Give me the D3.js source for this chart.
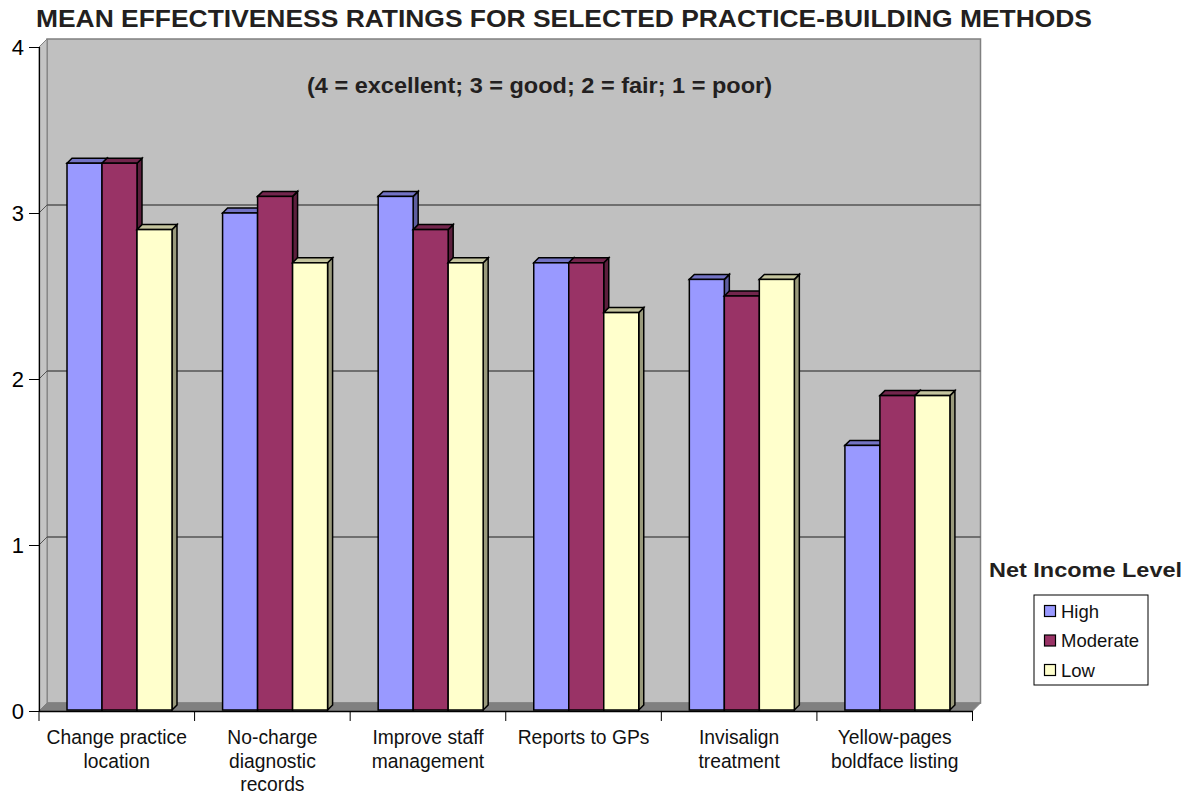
<!DOCTYPE html>
<html>
<head>
<meta charset="utf-8">
<script src="https://cdn.jsdelivr.net/npm/d3@7/dist/d3.min.js"></script>
<style>
  html, body { margin: 0; padding: 0; background: #fff; }
  svg { display: block; font-family: "Liberation Sans", Arial, sans-serif; }
</style>
</head>
<body>
<svg id="chart" width="1194" height="795"></svg>
<script>
// ---- Data ----
const categories = [
  ["Change practice", "location"],
  ["No-charge", "diagnostic", "records"],
  ["Improve staff", "management"],
  ["Reports to GPs"],
  ["Invisalign", "treatment"],
  ["Yellow-pages", "boldface listing"]
];
const seriesNames = ["High", "Moderate", "Low"];
const highValues     = [3.3, 3.0, 3.1, 2.7, 2.6, 1.6];
const moderateValues = [3.3, 3.1, 2.9, 2.7, 2.5, 1.9];
const lowValues      = [2.9, 2.7, 2.7, 2.4, 2.6, 1.9];
const yTicks = [0, 1, 2, 3, 4];
const titleText = "MEAN EFFECTIVENESS RATINGS FOR SELECTED PRACTICE-BUILDING METHODS";
const subtitleText = "(4 = excellent; 3 = good; 2 = fair; 1 = poor)";
const legendTitle = "Net Income Level";

const seriesValues = [highValues, moderateValues, lowValues];
const colors = {
  front: ["#9999FF", "#993366", "#FFFFCC"],
  top:   ["#7373C4", "#73264D", "#C4C49E"],
  side:  ["#5E5EA0", "#5C1F3D", "#9A9A7C"]
};

const svg = d3.select("#chart");
const catKeys = categories.map((c, i) => i);

const x0 = 39, x1 = 972.5, yBase = 711, yTop = 47;
const D = 8;       // wall depth
const bd = 5;      // bar depth

const x = d3.scaleBand().domain(catKeys).range([x0, x1]).paddingInner(0).paddingOuter(0);
const xInner = d3.scaleBand().domain(seriesNames).range([28, 133]);
const y = d3.scaleLinear().domain([0, 4]).range([yBase, yTop]);

// ---- Walls ----
svg.append("rect")
  .attr("x", x0 + D).attr("y", y(4) - D)
  .attr("width", x1 + D - (x0 + D)).attr("height", y(0) - y(4))
  .attr("fill", "#C0C0C0").attr("stroke", "#808080").attr("stroke-width", 1.5);
svg.append("polygon")
  .attr("points", [[x0, y(4)], [x0 + D, y(4) - D], [x0 + D, y(0) - D], [x0, y(0)]].map(p => p.join(",")).join(" "))
  .attr("fill", "#C4C4C4").attr("stroke", "#808080").attr("stroke-width", 1);
svg.append("polygon")
  .attr("points", [[x0, y(0)], [x0 + D, y(0) - D], [x1 + D, y(0) - D], [x1, y(0)]].map(p => p.join(",")).join(" "))
  .attr("fill", "#808080").attr("stroke", "#808080").attr("stroke-width", 1);

const grid = svg.append("g");
yTicks.filter(t => t > 0 && t < 4).forEach(t => {
  grid.append("line")
    .attr("x1", x0 + D).attr("x2", x1 + D)
    .attr("y1", y(t) - D).attr("y2", y(t) - D)
    .attr("stroke", "#555").attr("stroke-width", 1.5);
  grid.append("line")
    .attr("x1", x0).attr("x2", x0 + D)
    .attr("y1", y(t)).attr("y2", y(t) - D)
    .attr("stroke", "#555").attr("stroke-width", 1);
});

// ---- Bars ----
const bars = svg.append("g");
catKeys.forEach(ci => {
  seriesNames.forEach((s, si) => {
    const v = seriesValues[si][ci];
    const bx = x(ci) + xInner(s);
    const w = xInner.bandwidth();
    const yt = y(v), yb = y(0) - 1;
    const g = bars.append("g").attr("stroke", "#000").attr("stroke-width", 1.5).attr("stroke-linejoin", "miter");
    g.append("polygon")
      .attr("points", [[bx + w, yt], [bx + w + bd, yt - bd], [bx + w + bd, yb - bd], [bx + w, yb]].map(p => p.join(",")).join(" "))
      .attr("fill", colors.side[si]);
    g.append("polygon")
      .attr("points", [[bx, yt], [bx + bd, yt - bd], [bx + w + bd, yt - bd], [bx + w, yt]].map(p => p.join(",")).join(" "))
      .attr("fill", colors.top[si]);
    g.append("rect")
      .attr("x", bx).attr("y", yt).attr("width", w).attr("height", yb - yt)
      .attr("fill", colors.front[si]);
  });
});

// ---- Axes ----
const yAxis = d3.axisLeft(y).tickValues(yTicks).tickSize(10).tickPadding(5).tickFormat(d3.format("d"));
const yg = svg.append("g").attr("transform", `translate(${x0},0)`).call(yAxis);
yg.select(".domain").attr("stroke", "#000").attr("stroke-width", 1.2);
yg.selectAll(".tick line").attr("stroke", "#000");
yg.selectAll(".tick text").attr("font-size", 22).attr("fill", "#000")
  .attr("font-family", "Liberation Sans, Arial, sans-serif");

const xAxis = d3.axisBottom(x).tickSize(0).tickFormat("");
const xg = svg.append("g").attr("transform", `translate(0,${yBase})`).call(xAxis);
xg.select(".domain").attr("stroke", "#000").attr("stroke-width", 1.5);
xg.selectAll(".tick").remove();
const bounds = catKeys.map(c => x(c)).concat([x1]);
xg.selectAll("line.bt").data(bounds).enter().append("line")
  .attr("class", "bt").attr("x1", d => d).attr("x2", d => d)
  .attr("y1", 0).attr("y2", 10).attr("stroke", "#000").attr("stroke-width", 1);
catKeys.forEach(ci => {
  const t = svg.append("text")
    .attr("x", x(ci) + x.bandwidth() / 2).attr("y", 744)
    .attr("text-anchor", "middle").attr("font-size", 19.3).attr("fill", "#111");
  categories[ci].forEach((line, li) => {
    t.append("tspan").attr("x", x(ci) + x.bandwidth() / 2).attr("dy", li === 0 ? 0 : 23.5).text(line);
  });
});

// ---- Titles ----
svg.append("text").attr("x", 36).attr("y", 27)
  .attr("font-size", 23.5).attr("font-weight", "bold").attr("fill", "#231F20")
  .attr("textLength", 1056).attr("lengthAdjust", "spacingAndGlyphs").text(titleText);
svg.append("text").attr("x", 307).attr("y", 93)
  .attr("font-size", 21.5).attr("font-weight", "bold").attr("fill", "#231F20")
  .attr("textLength", 465).attr("lengthAdjust", "spacingAndGlyphs").text(subtitleText);

// ---- Legend ----
svg.append("text").attr("x", 989).attr("y", 577)
  .attr("font-size", 19.5).attr("font-weight", "bold").attr("fill", "#231F20")
  .attr("textLength", 193).attr("lengthAdjust", "spacingAndGlyphs").text(legendTitle);
const lg = svg.append("g");
lg.append("rect").attr("x", 1034).attr("y", 595).attr("width", 114).attr("height", 90)
  .attr("fill", "#fff").attr("stroke", "#000").attr("stroke-width", 1);
const ly = d3.scalePoint().domain(seriesNames).range([611, 670]);
seriesNames.forEach((s, si) => {
  lg.append("rect").attr("x", 1044.5).attr("y", ly(s) - 5.5).attr("width", 11).attr("height", 11)
    .attr("fill", colors.front[si]).attr("stroke", "#000").attr("stroke-width", 1.2);
  lg.append("text").attr("x", 1061).attr("y", ly(s) + 6.5).attr("font-size", 18.5).attr("fill", "#111").text(s);
});
</script>
</body>
</html>
